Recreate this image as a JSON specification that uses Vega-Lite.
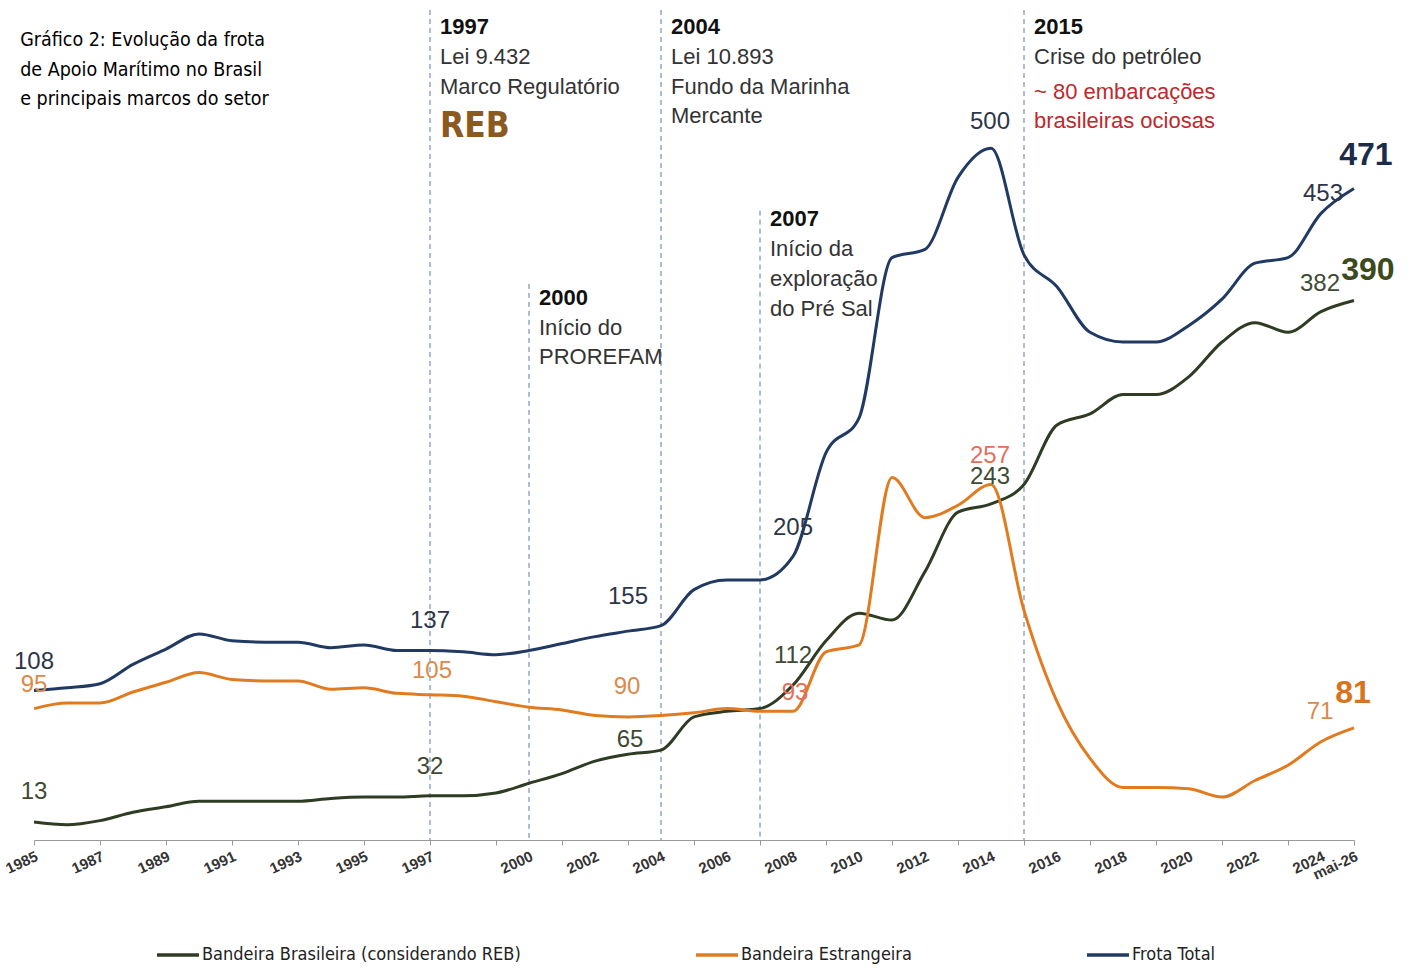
{
  "$schema": "https://vega.github.io/schema/vega-lite/v6.json",
  "width": 1320,
  "height": 830,
  "autosize": {"type": "none"},
  "padding": {"left": 34, "top": 10, "right": 58, "bottom": 131},
  "background": "white",
  "config": {"view": {"stroke": null}, "font": "Liberation Sans"},
  "layer": [
    {
      "data": {"values": [
        {"ano": 1997, "topo": 600}, {"ano": 2000, "topo": 402}, {"ano": 2004, "topo": 600},
        {"ano": 2007, "topo": 455}, {"ano": 2015, "topo": 600}
      ]},
      "mark": {"type": "rule", "strokeDash": [5, 4], "color": "#5b7da6", "strokeWidth": 1},
      "encoding": {
        "x": {"field": "ano", "type": "quantitative", "title": null, "scale": {"domain": [1985, 2025], "nice": false, "zero": false},
          "axis": {
            "title": null, "grid": false, "labels": false,
            "values": [1985,1986,1987,1988,1989,1990,1991,1992,1993,1994,1995,1996,1997,1998,1999,2000,2001,2002,2003,2004,2005,2006,2007,2008,2009,2010,2011,2012,2013,2014,2015,2016,2017,2018,2019,2020,2021,2022,2023,2024,2025],
            "domainColor": "#999999", "tickColor": "#999999", "tickSize": 5
          }},
        "y": {"field": "topo", "type": "quantitative", "scale": {"domain": [0, 600], "nice": false}, "axis": null},
        "y2": {"datum": 0}
      }
    },
    {
      "data": {"values": [
        {"ano": 1985, "lab": "1985"}, {"ano": 1987, "lab": "1987"}, {"ano": 1989, "lab": "1989"},
        {"ano": 1991, "lab": "1991"}, {"ano": 1993, "lab": "1993"}, {"ano": 1995, "lab": "1995"},
        {"ano": 1997, "lab": "1997"}, {"ano": 2000, "lab": "2000"}, {"ano": 2002, "lab": "2002"},
        {"ano": 2004, "lab": "2004"}, {"ano": 2006, "lab": "2006"}, {"ano": 2008, "lab": "2008"},
        {"ano": 2010, "lab": "2010"}, {"ano": 2012, "lab": "2012"}, {"ano": 2014, "lab": "2014"},
        {"ano": 2016, "lab": "2016"}, {"ano": 2018, "lab": "2018"}, {"ano": 2020, "lab": "2020"},
        {"ano": 2022, "lab": "2022"}, {"ano": 2024, "lab": "2024"}, {"ano": 2025, "lab": "mai-26"}
      ]},
      "mark": {"type": "text", "angle": -25, "align": "right", "baseline": "top", "yOffset": 9, "fontSize": 15, "fontWeight": "bold", "color": "#333333"},
      "encoding": {
        "x": {"field": "ano", "type": "quantitative", "title": null},
        "y": {"datum": 0, "type": "quantitative", "axis": null},
        "text": {"field": "lab", "type": "nominal"}
      }
    },
    {
      "data": {"values": [
        {"ano": 1985, "bras": 13, "estr": 95, "total": 108},
        {"ano": 1986, "bras": 11, "estr": 99, "total": 110},
        {"ano": 1987, "bras": 14, "estr": 99, "total": 113},
        {"ano": 1988, "bras": 20, "estr": 107, "total": 127},
        {"ano": 1989, "bras": 24, "estr": 114, "total": 138},
        {"ano": 1990, "bras": 28, "estr": 121, "total": 149},
        {"ano": 1991, "bras": 28, "estr": 116, "total": 144},
        {"ano": 1992, "bras": 28, "estr": 115, "total": 143},
        {"ano": 1993, "bras": 28, "estr": 115, "total": 143},
        {"ano": 1994, "bras": 30, "estr": 109, "total": 139},
        {"ano": 1995, "bras": 31, "estr": 110, "total": 141},
        {"ano": 1996, "bras": 31, "estr": 106, "total": 137},
        {"ano": 1997, "bras": 32, "estr": 105, "total": 137},
        {"ano": 1998, "bras": 32, "estr": 104, "total": 136},
        {"ano": 1999, "bras": 34, "estr": 100, "total": 134},
        {"ano": 2000, "bras": 41, "estr": 96, "total": 137},
        {"ano": 2001, "bras": 48, "estr": 94, "total": 142},
        {"ano": 2002, "bras": 57, "estr": 90, "total": 147},
        {"ano": 2003, "bras": 62, "estr": 89, "total": 151},
        {"ano": 2004, "bras": 65, "estr": 90, "total": 155},
        {"ano": 2005, "bras": 89, "estr": 92, "total": 181},
        {"ano": 2006, "bras": 93, "estr": 95, "total": 188},
        {"ano": 2007, "bras": 95, "estr": 93, "total": 188},
        {"ano": 2008, "bras": 112, "estr": 93, "total": 205},
        {"ano": 2009, "bras": 144, "estr": 136, "total": 280},
        {"ano": 2010, "bras": 164, "estr": 141, "total": 305},
        {"ano": 2011, "bras": 159, "estr": 262, "total": 421},
        {"ano": 2012, "bras": 194, "estr": 233, "total": 427},
        {"ano": 2013, "bras": 237, "estr": 242, "total": 479},
        {"ano": 2014, "bras": 243, "estr": 257, "total": 500},
        {"ano": 2015, "bras": 257, "estr": 166, "total": 423},
        {"ano": 2016, "bras": 300, "estr": 100, "total": 400},
        {"ano": 2017, "bras": 308, "estr": 59, "total": 367},
        {"ano": 2018, "bras": 322, "estr": 38, "total": 360},
        {"ano": 2019, "bras": 322, "estr": 38, "total": 360},
        {"ano": 2020, "bras": 335, "estr": 37, "total": 372},
        {"ano": 2021, "bras": 360, "estr": 31, "total": 391},
        {"ano": 2022, "bras": 374, "estr": 43, "total": 417},
        {"ano": 2023, "bras": 367, "estr": 54, "total": 421},
        {"ano": 2024, "bras": 382, "estr": 71, "total": 453},
        {"ano": 2025, "bras": 390, "estr": 81, "total": 471}
      ]},
      "transform": [{"fold": ["bras", "estr", "total"], "as": ["serie", "valor"]}],
      "mark": {"type": "line", "interpolate": "monotone", "strokeWidth": 3},
      "encoding": {
        "x": {"field": "ano", "type": "quantitative", "title": null},
        "y": {"field": "valor", "type": "quantitative", "axis": null},
        "color": {"field": "serie", "type": "nominal",
          "scale": {"domain": ["bras", "estr", "total"], "range": ["#2f3b22", "#e07b20", "#213a63"]},
          "legend": {
            "title": null, "orient": "none", "legendX": 121, "legendY": 922, "direction": "horizontal",
            "symbolType": "stroke", "symbolSize": 1764, "symbolStrokeWidth": 3.5,
            "labelFont": "DejaVu Sans Condensed, Roboto Condensed, Roboto", "labelFontSize": 18, "labelColor": "#222222", "labelOffset": 1,
            "columnPadding": 168, "labelLimit": 500,
            "labelExpr": "datum.label == 'bras' ? 'Bandeira Brasileira (considerando REB)' : (datum.label == 'estr' ? 'Bandeira Estrangeira' : 'Frota Total')"
          }}
      }
    },
    {
      "data": {"values": [
        {"ano": 1984.58, "y": 578.5, "t": "Gráfico 2: Evolução da frota"},
        {"ano": 1984.58, "y": 556.8, "t": "de Apoio Marítimo no Brasil"},
        {"ano": 1984.58, "y": 535.8, "t": "e principais marcos do setor"}
      ]},
      "mark": {"type": "text", "align": "left", "baseline": "middle", "font": "DejaVu Sans Condensed, Roboto Condensed, Roboto", "fontSize": 19.5, "color": "#000000"},
      "encoding": {
        "x": {"field": "ano", "type": "quantitative", "title": null},
        "y": {"field": "y", "type": "quantitative", "axis": null},
        "text": {"field": "t"}
      }
    },
    {
      "data": {"values": [
        {"ano": 1997, "y": 587.9, "t": "1997"},
        {"ano": 2004, "y": 587.9, "t": "2004"},
        {"ano": 2015, "y": 587.9, "t": "2015"},
        {"ano": 2000, "y": 391.9, "t": "2000"},
        {"ano": 2007, "y": 449.0, "t": "2007"}
      ]},
      "mark": {"type": "text", "align": "left", "baseline": "middle", "dx": 10, "fontSize": 22, "fontWeight": "bold", "color": "#111111"},
      "encoding": {
        "x": {"field": "ano", "type": "quantitative", "title": null},
        "y": {"field": "y", "type": "quantitative", "axis": null},
        "text": {"field": "t"}
      }
    },
    {
      "data": {"values": [
        {"ano": 1997, "y": 566.2, "t": "Lei 9.432"},
        {"ano": 1997, "y": 544.5, "t": "Marco Regulatório"},
        {"ano": 2004, "y": 566.2, "t": "Lei 10.893"},
        {"ano": 2004, "y": 544.5, "t": "Fundo da Marinha"},
        {"ano": 2004, "y": 523.5, "t": "Mercante"},
        {"ano": 2015, "y": 566.2, "t": "Crise do petróleo"},
        {"ano": 2000, "y": 370.2, "t": "Início do"},
        {"ano": 2000, "y": 349.2, "t": "PROREFAM"},
        {"ano": 2007, "y": 427.3, "t": "Início da"},
        {"ano": 2007, "y": 405.6, "t": "exploração"},
        {"ano": 2007, "y": 384.0, "t": "do Pré Sal"}
      ]},
      "mark": {"type": "text", "align": "left", "baseline": "middle", "dx": 10, "fontSize": 22, "color": "#333333"},
      "encoding": {
        "x": {"field": "ano", "type": "quantitative", "title": null},
        "y": {"field": "y", "type": "quantitative", "axis": null},
        "text": {"field": "t"}
      }
    },
    {
      "data": {"values": [
        {"ano": 2015, "y": 540.9, "t": "~ 80 embarcações"},
        {"ano": 2015, "y": 519.9, "t": "brasileiras ociosas"}
      ]},
      "mark": {"type": "text", "align": "left", "baseline": "middle", "dx": 10, "fontSize": 22, "color": "#c1272d"},
      "encoding": {
        "x": {"field": "ano", "type": "quantitative", "title": null},
        "y": {"field": "y", "type": "quantitative", "axis": null},
        "text": {"field": "t"}
      }
    },
    {
      "data": {"values": [{"ano": 1997, "y": 516.3, "t": "REB"}]},
      "mark": {"type": "text", "align": "left", "baseline": "middle", "dx": 10, "font": "DejaVu Sans Condensed, Roboto Condensed, Roboto", "fontSize": 35, "fontWeight": "bold", "color": "#8b5a1f"},
      "encoding": {
        "x": {"field": "ano", "type": "quantitative", "title": null},
        "y": {"field": "y", "type": "quantitative", "axis": null},
        "text": {"field": "t"}
      }
    },
    {
      "data": {"values": [
        {"ano": 1985, "y": 128.7, "t": "108"},
        {"ano": 1997, "y": 158.4, "t": "137"},
        {"ano": 2003, "y": 175.7, "t": "155"},
        {"ano": 2008, "y": 225.6, "t": "205"},
        {"ano": 2013.97, "y": 519.2, "t": "500"},
        {"ano": 2024.06, "y": 467.1, "t": "453"}
      ]},
      "mark": {"type": "text", "align": "center", "baseline": "middle", "fontSize": 24, "color": "#2d3548"},
      "encoding": {
        "x": {"field": "ano", "type": "quantitative", "title": null},
        "y": {"field": "y", "type": "quantitative", "axis": null},
        "text": {"field": "t"}
      }
    },
    {
      "data": {"values": [
        {"ano": 1985, "y": 34.7, "t": "13"},
        {"ano": 1997, "y": 52.8, "t": "32"},
        {"ano": 2003.06, "y": 72.3, "t": "65"},
        {"ano": 2008, "y": 133.0, "t": "112"},
        {"ano": 2013.97, "y": 262.5, "t": "243"},
        {"ano": 2023.97, "y": 402.0, "t": "382"}
      ]},
      "mark": {"type": "text", "align": "center", "baseline": "middle", "fontSize": 24, "color": "#3e4a32"},
      "encoding": {
        "x": {"field": "ano", "type": "quantitative", "title": null},
        "y": {"field": "y", "type": "quantitative", "axis": null},
        "text": {"field": "t"}
      }
    },
    {
      "data": {"values": [
        {"ano": 1985, "y": 112.1, "t": "95"},
        {"ano": 1997.06, "y": 122.2, "t": "105"},
        {"ano": 2002.97, "y": 110.6, "t": "90"},
        {"ano": 2023.97, "y": 92.6, "t": "71"}
      ]},
      "mark": {"type": "text", "align": "center", "baseline": "middle", "fontSize": 24, "color": "#db8a4b"},
      "encoding": {
        "x": {"field": "ano", "type": "quantitative", "title": null},
        "y": {"field": "y", "type": "quantitative", "axis": null},
        "text": {"field": "t"}
      }
    },
    {
      "data": {"values": [
        {"ano": 2013.97, "y": 277.7, "t": "257"},
        {"ano": 2008.06, "y": 106.3, "t": "93"}
      ]},
      "mark": {"type": "text", "align": "center", "baseline": "middle", "fontSize": 24, "color": "#e2705a"},
      "encoding": {
        "x": {"field": "ano", "type": "quantitative", "title": null},
        "y": {"field": "y", "type": "quantitative", "axis": null},
        "text": {"field": "t"}
      }
    },
    {
      "data": {"values": [{"ano": 2025.36, "y": 495.3, "t": "471"}]},
      "mark": {"type": "text", "align": "center", "baseline": "middle", "fontSize": 32, "fontWeight": "bold", "color": "#1c2b4a"},
      "encoding": {
        "x": {"field": "ano", "type": "quantitative", "title": null},
        "y": {"field": "y", "type": "quantitative", "axis": null},
        "text": {"field": "t"}
      }
    },
    {
      "data": {"values": [{"ano": 2025.42, "y": 412.1, "t": "390"}]},
      "mark": {"type": "text", "align": "center", "baseline": "middle", "fontSize": 32, "fontWeight": "bold", "color": "#3d4a1c"},
      "encoding": {
        "x": {"field": "ano", "type": "quantitative", "title": null},
        "y": {"field": "y", "type": "quantitative", "axis": null},
        "text": {"field": "t"}
      }
    },
    {
      "data": {"values": [{"ano": 2024.97, "y": 106.3, "t": "81"}]},
      "mark": {"type": "text", "align": "center", "baseline": "middle", "fontSize": 32, "fontWeight": "bold", "color": "#d9731c"},
      "encoding": {
        "x": {"field": "ano", "type": "quantitative", "title": null},
        "y": {"field": "y", "type": "quantitative", "axis": null},
        "text": {"field": "t"}
      }
    }
  ]
}
